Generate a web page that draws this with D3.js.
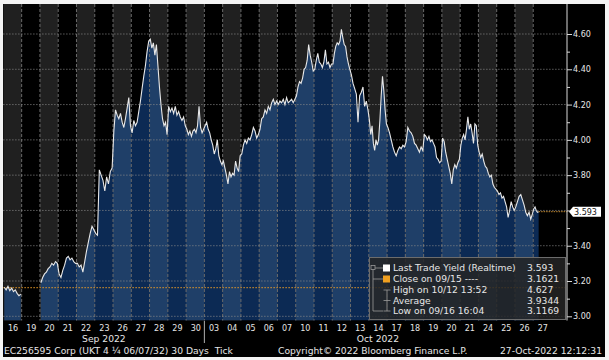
<!DOCTYPE html>
<html>
<head>
<meta charset="utf-8">
<script src="https://cdn.jsdelivr.net/npm/d3@7"></script>
<style>
  html, body { margin: 0; padding: 0; background: #fff; }
  svg { display: block; }
  text { font-family: "DejaVu Sans", sans-serif; font-size: 9.2px; fill: #e6e6e6; }
</style>
</head>
<body>
<svg id="chart" width="609" height="360"></svg>
<script>
// trading days shown on the x axis (Sep 19 had no trading)
const dayLabels = ["16", "19", "20", "21", "22", "23", "26", "27", "28", "29", "30",
  "03", "04", "05", "06", "07", "10", "11", "12", "13", "14",
  "17", "18", "19", "20", "21", "24", "25", "26", "27"];
const monthLabels = ["Sep 2022", "Oct 2022"];
const monthStart = [0, 11];

// intraday yields, one list per day
const dayYields = [
  [3.165, 3.15, 3.17, 3.145, 3.16, 3.14, 3.15, 3.13, 3.117, 3.125],
  [],
  [3.19, 3.22, 3.24, 3.25, 3.27, 3.28, 3.30, 3.29, 3.31, 3.30],
  [3.24, 3.22, 3.26, 3.29, 3.33, 3.34, 3.32, 3.33, 3.31, 3.30],
  [3.30, 3.28, 3.29, 3.25, 3.31, 3.37, 3.42, 3.47, 3.51, 3.49],
  [3.47, 3.46, 3.83, 3.80, 3.77, 3.71, 3.79, 3.75, 3.82, 3.84],
  [4.05, 4.17, 4.14, 4.12, 4.15, 4.10, 4.07, 4.12, 4.18, 4.24, 4.08],
  [4.04, 4.11, 4.08, 4.10, 4.16, 4.22, 4.29, 4.36, 4.42, 4.50, 4.56],
  [4.57, 4.52, 4.55, 4.48, 4.54, 4.42, 4.30, 4.20, 4.12, 4.08, 4.10, 4.03],
  [4.19, 4.16, 4.18, 4.15, 4.19, 4.14, 4.16, 4.13, 4.11, 4.13, 4.08],
  [4.06, 4.03, 4.05, 4.02, 4.05, 4.06, 4.04, 4.08, 4.19, 4.07, 4.04, 4.06],
  [4.08, 4.10, 4.06, 4.04, 4.00, 3.97, 3.92, 3.95, 4.00, 3.91, 3.88, 3.86],
  [3.88, 3.84, 3.80, 3.75, 3.82, 3.79, 3.81, 3.80, 3.88, 3.84, 3.82, 3.91],
  [3.92, 3.97, 4.00, 3.98, 4.01, 4.00, 4.03, 4.07, 4.05, 4.01, 4.03],
  [4.06, 4.12, 4.13, 4.17, 4.15, 4.19, 4.17, 4.21, 4.23, 4.20, 4.22],
  [4.20, 4.22, 4.21, 4.23, 4.20, 4.24, 4.21, 4.22, 4.23, 4.21, 4.23],
  [4.25, 4.30, 4.33, 4.32, 4.35, 4.40, 4.41, 4.45, 4.54, 4.48, 4.44, 4.39],
  [4.40, 4.45, 4.49, 4.44, 4.43, 4.41, 4.44, 4.51, 4.43, 4.44, 4.41, 4.43],
  [4.43, 4.49, 4.53, 4.55, 4.54, 4.56, 4.627, 4.58, 4.54, 4.53, 4.47, 4.43, 4.40],
  [4.37, 4.32, 4.29, 4.26, 4.10, 4.25, 4.27, 4.30, 4.19, 4.22, 4.17],
  [4.11, 4.03, 4.08, 3.98, 3.94, 4.00, 3.97, 4.00, 4.11, 4.25, 4.36, 4.28, 4.17, 4.09],
  [4.07, 4.04, 4.00, 3.96, 3.93, 3.91, 3.94, 3.96, 3.95, 3.97, 3.96],
  [3.99, 4.07, 4.05, 4.04, 4.02, 3.98, 3.97, 3.95, 3.93, 3.96, 3.94],
  [4.03, 4.02, 4.00, 4.02, 3.99, 4.00, 3.98, 3.96, 3.90, 3.89, 3.87, 3.88],
  [4.01, 3.99, 3.93, 3.89, 3.85, 3.81, 3.75, 3.83, 3.86, 3.84, 3.87, 3.89],
  [3.97, 4.01, 4.03, 4.00, 4.06, 4.13, 4.06, 4.09, 4.04, 3.98, 4.09, 4.08, 3.97],
  [3.93, 3.90, 3.92, 3.88, 3.85, 3.84, 3.81, 3.79, 3.80, 3.75, 3.73, 3.72],
  [3.71, 3.69, 3.70, 3.67, 3.68, 3.65, 3.62, 3.56, 3.60, 3.65, 3.62, 3.60],
  [3.62, 3.65, 3.68, 3.69, 3.66, 3.63, 3.59, 3.57, 3.59, 3.55, 3.58],
  [3.61, 3.62, 3.60, 3.59, 3.593]
];
const lastDayShare = 0.33; // part of the last session elapsed (to 12:12)

const closeYield = 3.1621;
const lastYield = 3.593;
const yMajorTicks = [3.0, 3.2, 3.4, 3.6, 3.8, 4.0, 4.2, 4.4, 4.6];
const yMinorTicks = [3.1, 3.3, 3.5, 3.7, 3.9, 4.1, 4.3, 4.5];

const legendNames = ["Last Trade Yield (Realtime)", "Close on 09/15 ----",
  "High on 10/12 13:52", "Average", "Low on 09/16 16:04"];
const legendValues = ["3.593", "3.1621", "4.627", "3.9344", "3.1169"];

const footerLeft = "EC256595 Corp (UKT 4 \u00bc 06/07/32) 30 Days\u00a0 Tick";
const footerMid = "Copyright\u00a9 2022 Bloomberg Finance L.P.";
const footerRight = "27-Oct-2022 12:12:31";

const svg = d3.select("#chart");
const plot = { left: 3.4, right: 567, top: 4, bottom: 320.5 };
const axisFont = "8px";

const xScale = d3.scaleLinear().domain([0, dayLabels.length]).range([3.4, 551.5]);
const yScale = d3.scaleLinear().domain([3.0, 4.6]).range([316.3, 34]);

// frame
svg.append("rect").attr("width", 609).attr("height", 360).attr("fill", "#f4f4f4");
svg.append("rect").attr("x", 3).attr("y", 4).attr("width", 602).attr("height", 353).attr("fill", "#000");

// alternating day columns
svg.append("g").selectAll("rect").data(dayLabels).join("rect")
  .attr("x", (d, i) => xScale(i))
  .attr("width", (d, i) => xScale(i + 1) - xScale(i))
  .attr("y", plot.top)
  .attr("height", plot.bottom - plot.top)
  .attr("fill", (d, i) => i % 2 === 0 ? "#202020" : "#000");

// flatten ticks into points
const points = [];
dayYields.forEach((vals, i) => {
  if (!vals.length) { points.push({ gap: true }); return; }
  const share = i === dayYields.length - 1 ? lastDayShare : 1;
  vals.forEach((v, j) => points.push({ t: i + share * (j + 0.5) / vals.length, v: v }));
});
const lastPoint = points[points.length - 1];

const area = d3.area()
  .defined(d => !d.gap)
  .x(d => xScale(d.t))
  .y0(plot.bottom)
  .y1(d => yScale(d.v));
const line = d3.line()
  .defined(d => !d.gap)
  .x(d => xScale(d.t))
  .y(d => yScale(d.v));

svg.append("defs").append("clipPath").attr("id", "under")
  .append("path").attr("d", area(points));

svg.append("g").attr("clip-path", "url(#under)")
  .selectAll("rect").data(dayLabels).join("rect")
  .attr("x", (d, i) => xScale(i))
  .attr("width", (d, i) => xScale(i + 1) - xScale(i) + 0.5)
  .attr("y", plot.top)
  .attr("height", plot.bottom - plot.top)
  .attr("fill", (d, i) => i % 2 === 0 ? "#1f3f68" : "#0c2a54");

// grid
svg.append("g").selectAll("line").data(dayLabels.slice(1)).join("line")
  .attr("x1", (d, i) => xScale(i + 1)).attr("x2", (d, i) => xScale(i + 1))
  .attr("y1", plot.top).attr("y2", plot.bottom)
  .attr("stroke", "#6a6a6a").attr("stroke-width", 1)
  .attr("stroke-dasharray", "3,2");

svg.append("g").selectAll("line").data(yMajorTicks).join("line")
  .attr("x1", plot.left).attr("x2", plot.right)
  .attr("y1", d => yScale(d)).attr("y2", d => yScale(d))
  .attr("stroke", "#8a8a8a").attr("stroke-width", 1)
  .attr("stroke-dasharray", "1,2");

// previous close
svg.append("line")
  .attr("x1", plot.left).attr("x2", plot.right)
  .attr("y1", yScale(closeYield)).attr("y2", yScale(closeYield))
  .attr("stroke", "#e89a28").attr("stroke-width", 1)
  .attr("stroke-dasharray", "1.5,1.5");

// price line
svg.append("path")
  .attr("d", line(points))
  .attr("fill", "none")
  .attr("stroke", "#e8e8e8")
  .attr("stroke-width", 1.1);

// last price line
svg.append("line")
  .attr("x1", xScale(lastPoint.t)).attr("x2", plot.right)
  .attr("y1", yScale(lastYield)).attr("y2", yScale(lastYield))
  .attr("stroke", "#c08830").attr("stroke-width", 1)
  .attr("stroke-dasharray", "1.5,1");

// right axis
svg.append("line")
  .attr("x1", plot.right).attr("x2", plot.right)
  .attr("y1", plot.top).attr("y2", plot.bottom)
  .attr("stroke", "#d8d8d8");

const yAxis = svg.append("g")
  .attr("transform", "translate(" + plot.right + ",0)")
  .call(d3.axisRight(yScale).tickValues(yMajorTicks).tickSize(5).tickPadding(1)
    .tickFormat(d3.format(".2f")));
yAxis.select(".domain").remove();
yAxis.selectAll("line").attr("stroke", "#d8d8d8");
yAxis.selectAll("text").attr("fill", "#e6e6e6").style("font-size", axisFont)
  .style("font-family", "DejaVu Sans, sans-serif");
// the last price tag sits over the nearest label
yAxis.selectAll(".tick").filter(d => Math.abs(d - lastYield) < 0.05).select("text").remove();

const yMinor = svg.append("g")
  .attr("transform", "translate(" + plot.right + ",0)")
  .call(d3.axisRight(yScale).tickValues(yMinorTicks).tickSize(3).tickFormat(""));
yMinor.select(".domain").remove();
yMinor.selectAll("line").attr("stroke", "#d8d8d8");

// last price tag
const tagY = yScale(lastYield);
svg.append("path")
  .attr("d", "M569," + tagY + "L573," + (tagY - 5) + "L601," + (tagY - 5) +
    "L601," + (tagY + 5) + "L573," + (tagY + 5) + "Z")
  .attr("fill", "#fff");
svg.append("text")
  .attr("x", 574).attr("y", tagY + 3)
  .style("fill", "#111").style("font-size", axisFont)
  .text(d3.format(".3f")(lastYield));

// x axis
const xAxis = svg.append("g")
  .attr("transform", "translate(0," + plot.bottom + ")")
  .call(d3.axisBottom(xScale)
    .tickValues(dayLabels.map((d, i) => i + 0.5))
    .tickFormat(d => dayLabels[Math.floor(d)])
    .tickSize(0).tickPadding(4.5));
xAxis.select(".domain").remove();
xAxis.selectAll("text").attr("fill", "#e6e6e6").style("font-size", axisFont)
  .style("font-family", "DejaVu Sans, sans-serif");

svg.append("g").selectAll("text").data(monthLabels).join("text")
  .attr("x", (d, i) => {
    const end = i + 1 < monthStart.length ? monthStart[i + 1] : dayLabels.length;
    return (xScale(monthStart[i]) + xScale(end)) / 2;
  })
  .attr("y", 342)
  .attr("text-anchor", "middle")
  .text(d => d);

svg.append("line")
  .attr("x1", xScale(monthStart[1])).attr("x2", xScale(monthStart[1]))
  .attr("y1", 321).attr("y2", 343)
  .attr("stroke", "#b0b0b0");

// legend
const legend = svg.append("g");
legend.append("rect")
  .attr("x", 369.5).attr("y", 257.5).attr("width", 196).attr("height", 62)
  .attr("fill", "#242424").attr("fill-opacity", 0.85)
  .attr("stroke", "#6c6c6c");

const rowY = [268, 279, 290, 300.5, 311];
const treeColor = "#9a9a9a";
legend.append("rect").attr("x", 371).attr("y", rowY[0] - 2.5).attr("width", 4).attr("height", 4)
  .attr("fill", "none").attr("stroke", treeColor).attr("stroke-width", 0.8);
legend.append("path")
  .attr("d", "M373," + (rowY[0] + 1.5) + "V" + rowY[4] + "H383" +
    "M373," + rowY[1] + "H383" + "M375," + rowY[0] + "H383" +
    "M387," + rowY[2] + "V" + rowY[4] +
    "M383.5," + rowY[2] + "H390.5M383.5," + rowY[3] + "H390.5M383.5," + rowY[4] + "H390.5")
  .attr("fill", "none").attr("stroke", treeColor).attr("stroke-width", 0.8);
legend.append("rect").attr("x", 383).attr("y", rowY[0] - 3.5).attr("width", 7).attr("height", 7)
  .attr("fill", "#ffffff");
legend.append("rect").attr("x", 383).attr("y", rowY[1] - 3.5).attr("width", 7).attr("height", 7)
  .attr("fill", "#f0a020");

legend.selectAll("text.name").data(legendNames).join("text")
  .attr("class", "name")
  .attr("x", 393).attr("y", (d, i) => rowY[i] + 3.3)
  .text(d => d);
legend.selectAll("text.value").data(legendValues).join("text")
  .attr("class", "value")
  .attr("x", 527).attr("y", (d, i) => rowY[i] + 3.3)
  .text(d => d);

// footer
svg.append("text").attr("x", 4).attr("y", 353.5).style("white-space", "pre").text(footerLeft);
svg.append("text").attr("x", 278).attr("y", 353.5).text(footerMid);
svg.append("text").attr("x", 602).attr("y", 353.5).attr("text-anchor", "end").text(footerRight);
</script>
</body>
</html>
